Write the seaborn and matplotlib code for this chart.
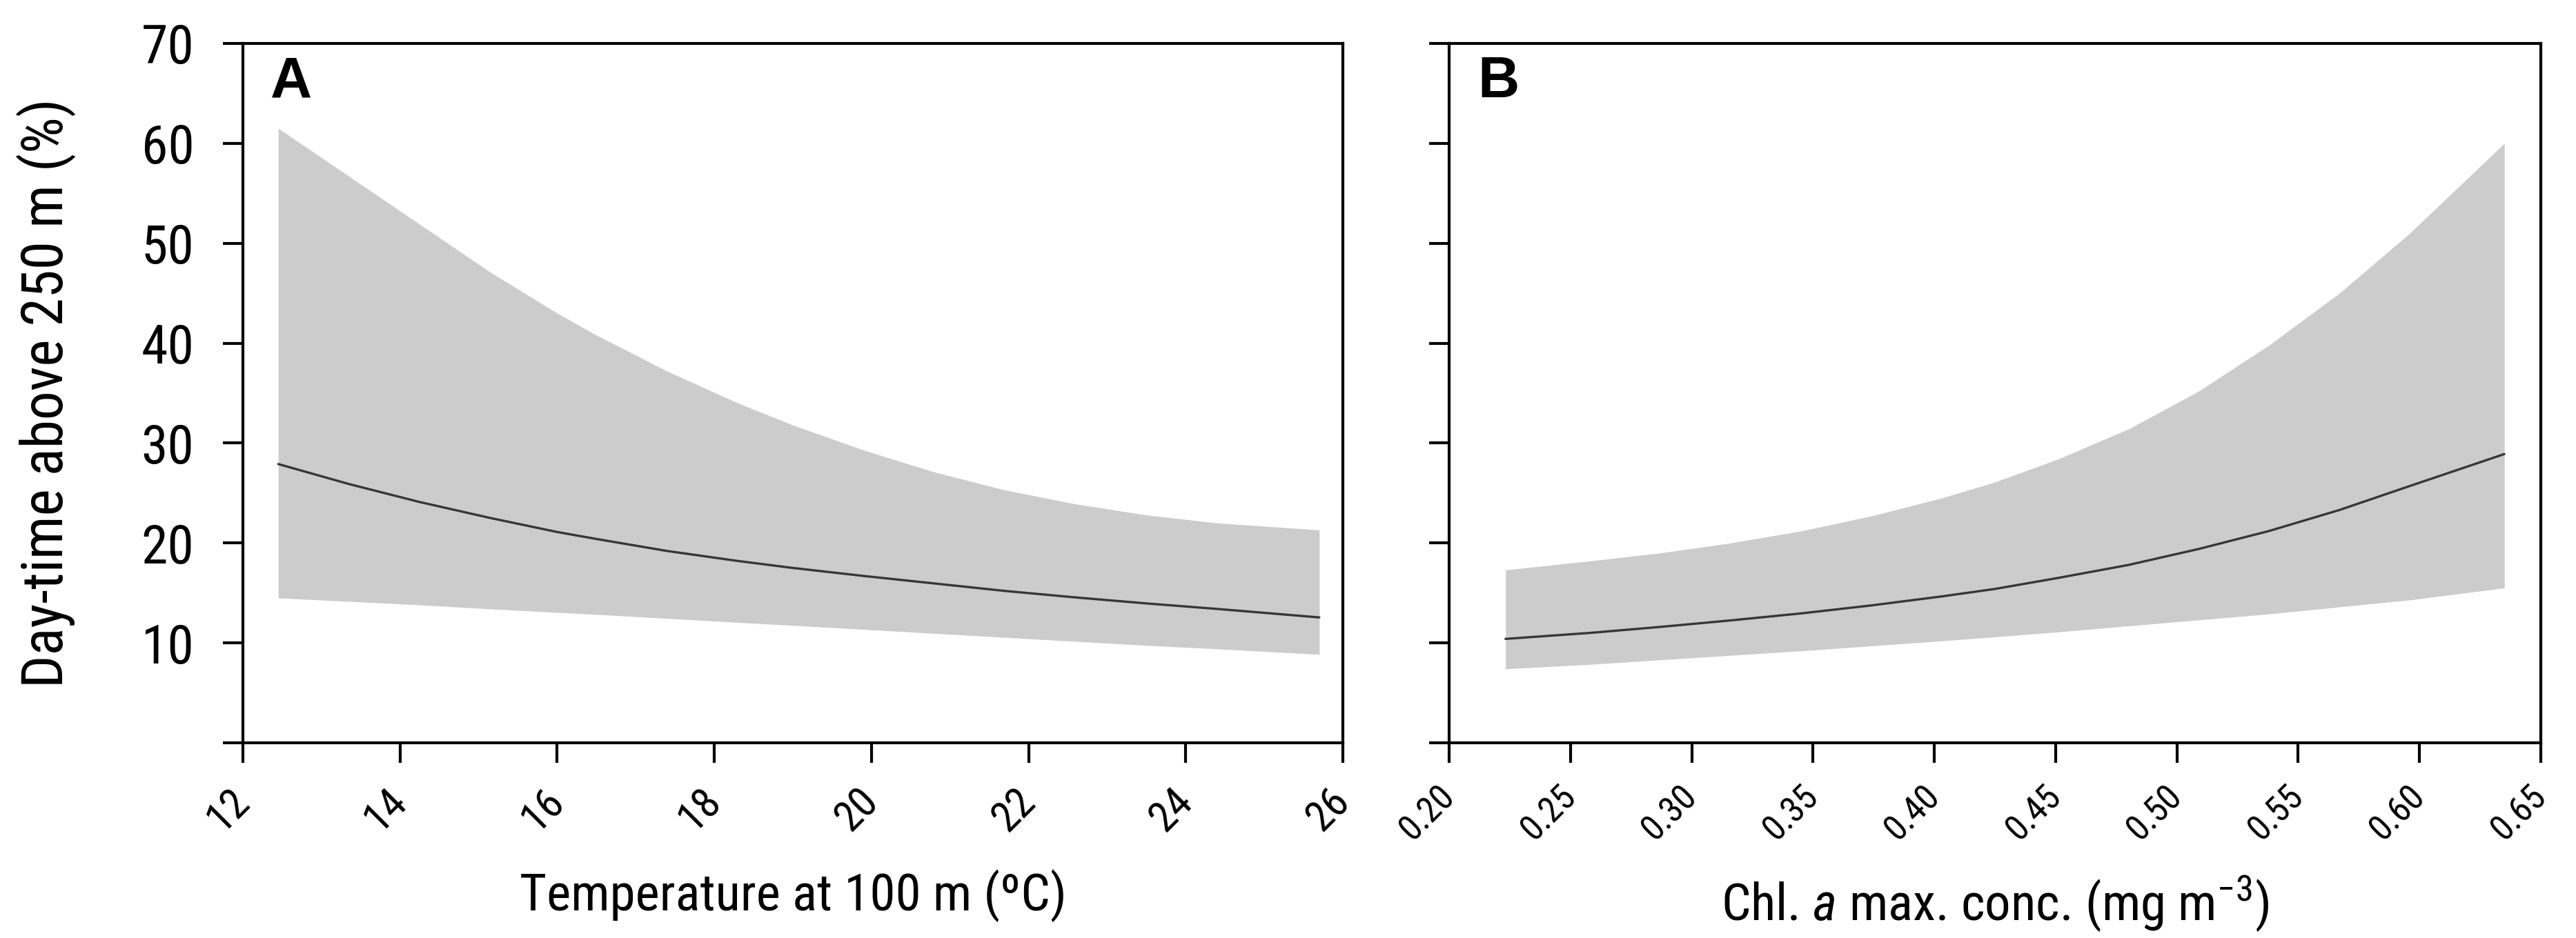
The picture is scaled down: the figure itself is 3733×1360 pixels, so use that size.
import numpy as np
import pandas as pd
import seaborn as sns
import matplotlib.pyplot as plt
from matplotlib import font_manager

# --- datos ---
# Panel A: temperatura a 100 m
temp = [12.45, 13.35, 14.25, 15.15, 16.0, 16.5, 17.4, 18.3, 19.0, 19.9, 20.8, 21.7, 22.6, 23.5, 24.4, 25.7]
temp_fit = [27.9, 25.9, 24.1, 22.5, 21.1, 20.4, 19.2, 18.2, 17.5, 16.7, 15.95, 15.2, 14.55, 13.95, 13.4, 12.55]
temp_upr = [61.5, 56.7, 51.9, 47.1, 43.0, 40.8, 37.2, 34.0, 31.8, 29.3, 27.1, 25.3, 23.9, 22.8, 22.0, 21.3]
temp_lwr = [14.5, 14.15, 13.8, 13.4, 13.05, 12.85, 12.45, 12.05, 11.75, 11.35, 10.95, 10.55, 10.15, 9.75, 9.4, 8.85]

# Panel B: clorofila a maxima
chl = [0.2232, 0.258, 0.287, 0.316, 0.345, 0.374, 0.403, 0.425, 0.451, 0.480, 0.509, 0.538, 0.567, 0.596, 0.635]
chl_fit = [10.4, 11.0, 11.6, 12.25, 12.95, 13.75, 14.65, 15.4, 16.5, 17.8, 19.4, 21.2, 23.3, 25.7, 28.9]
chl_upr = [17.3, 18.2, 19.0, 20.0, 21.2, 22.7, 24.5, 26.1, 28.4, 31.4, 35.2, 39.8, 45.0, 51.0, 60.0]
chl_lwr = [7.4, 7.85, 8.3, 8.75, 9.2, 9.7, 10.2, 10.6, 11.1, 11.7, 12.3, 12.9, 13.6, 14.3, 15.5]

y_ticks = [0, 10, 20, 30, 40, 50, 60, 70]
y_labels = ['', '10', '20', '30', '40', '50', '60', '70']
temp_ticks = [12, 14, 16, 18, 20, 22, 24, 26]
chl_ticks = [0.20, 0.25, 0.30, 0.35, 0.40, 0.45, 0.50, 0.55, 0.60, 0.65]

df_a = pd.DataFrame({'x': temp, 'fit': temp_fit, 'upr': temp_upr, 'lwr': temp_lwr})
df_b = pd.DataFrame({'x': chl, 'fit': chl_fit, 'upr': chl_upr, 'lwr': chl_lwr})

# fuente estrecha tipo Arial Narrow (la primera que exista)
nombres = {f.name for f in font_manager.fontManager.ttflist}
candidatas = ['Liberation Sans Narrow', 'Arial Narrow', 'Roboto Condensed',
              'Archivo Narrow', 'Liberation Sans']
fuente = next(c for c in candidatas if c in nombres)

sns.set_style('ticks')
plt.rcParams['font.family'] = [fuente, 'DejaVu Sans']
plt.rcParams['mathtext.fontset'] = 'custom'
plt.rcParams['mathtext.rm'] = fuente
plt.rcParams['mathtext.it'] = fuente + ':italic'
for k in ['text.color', 'axes.labelcolor', 'xtick.color', 'ytick.color', 'axes.edgecolor']:
    plt.rcParams[k] = 'black'

fig = plt.figure(figsize=(18.665, 6.8), dpi=200)
ax_a = fig.add_axes([0.0943, 0.2081, 0.4270, 0.7456])
ax_b = fig.add_axes([0.5626, 0.2081, 0.4237, 0.7456])

banda = '#cccccc'
linea = '#363636'

for ax, d in [(ax_a, df_a), (ax_b, df_b)]:
    ax.fill_between(d['x'], d['lwr'], d['upr'], color=banda, linewidth=0)
    sns.lineplot(data=d, x='x', y='fit', ax=ax, color=linea, linewidth=1.2)
    ax.set_ylim(0, 70)
    ax.set_yticks(y_ticks)
    ax.tick_params(axis='both', length=10.4, width=1.5, color='black')
    for s in ax.spines.values():
        s.set_color('black')
        s.set_linewidth(1.5)

# Panel A
ax_a.set_xlim(12, 26)
ax_a.set_xticks(temp_ticks)
ax_a.set_xticklabels([str(t) for t in temp_ticks])
ax_a.set_yticklabels(y_labels, fontsize=28)
ax_a.tick_params(axis='y', pad=15)
ax_a.tick_params(axis='x', labelsize=22, pad=17)
ax_a.set_xlabel('Temperature at 100 m (ºC)', fontsize=27, labelpad=16)
ax_a.set_ylabel('Day-time above 250 m (%)', fontsize=30, labelpad=34)

# Panel B
ax_b.set_xlim(0.20, 0.65)
ax_b.set_xticks(chl_ticks)
ax_b.set_xticklabels(['%.2f' % t for t in chl_ticks])
ax_b.set_yticklabels([])
ax_b.tick_params(axis='x', labelsize=18.5, pad=15)
ax_b.set_xlabel(r'Chl. $\it{a}$ max. conc. (mg m$^{-3}$)', fontsize=27, labelpad=14)
ax_b.set_ylabel('')

for ax in [ax_a, ax_b]:
    plt.setp(ax.get_xticklabels(), rotation=45, ha='right', va='center',
             rotation_mode='anchor')

ax_a.text(0.025, 0.983, 'A', transform=ax_a.transAxes, fontsize=30,
          fontweight='bold', family='Liberation Sans', ha='left', va='top')
ax_b.text(0.026, 0.983, 'B', transform=ax_b.transAxes, fontsize=30,
          fontweight='bold', family='Liberation Sans', ha='left', va='top')

fig.savefig('out.png', dpi=200)
